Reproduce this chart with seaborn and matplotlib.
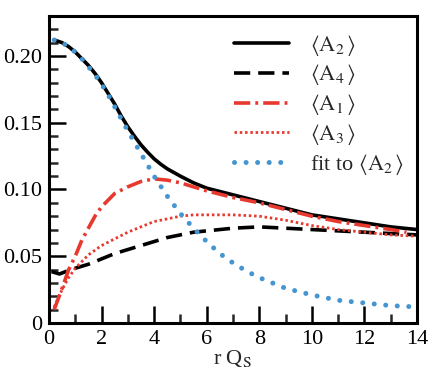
import numpy as np
import pandas as pd
import seaborn as sns
import matplotlib.pyplot as plt
from matplotlib.ticker import MultipleLocator, FuncFormatter

# values
x_a2 = [0.2, 0.5, 0.75, 1, 1.25, 1.5, 1.75, 2, 2.25, 2.5, 2.75, 3, 3.25, 3.5, 3.75, 4, 4.25, 4.5,
        5, 5.5, 6, 7, 8, 9, 10, 11, 12, 13, 14]
a2 = [0.212, 0.210, 0.207, 0.203, 0.198, 0.193, 0.187, 0.180, 0.172, 0.164, 0.155, 0.147, 0.140,
      0.1335, 0.128, 0.123, 0.119, 0.1155, 0.110, 0.105, 0.101, 0.096, 0.091, 0.086, 0.081,
      0.078, 0.075, 0.072, 0.070]

x_a4 = [0.1, 0.4, 0.7, 1, 1.5, 2, 2.5, 3, 3.5, 4, 4.5, 5, 5.5, 6, 7, 8, 9, 10, 11, 12, 13, 14]
a4 = [0.0385, 0.0367, 0.039, 0.041, 0.044, 0.048, 0.052, 0.055, 0.058, 0.061, 0.064, 0.066,
      0.068, 0.069, 0.071, 0.072, 0.071, 0.070, 0.069, 0.068, 0.067, 0.066]

x_a1 = [0.2, 0.5, 0.75, 1, 1.25, 1.5, 1.75, 2, 2.5, 3, 3.5, 4, 4.5, 5, 5.5, 6, 7, 8, 9, 10, 11,
        12, 13, 13.6]
a1 = [0.010, 0.026, 0.040, 0.050, 0.062, 0.071, 0.080, 0.087, 0.097, 0.102, 0.106, 0.108, 0.107,
      0.105, 0.102, 0.099, 0.094, 0.090, 0.085, 0.080, 0.076, 0.073, 0.070, 0.068]

x_a3 = [0.2, 0.5, 0.75, 1, 1.5, 2, 2.5, 3, 3.5, 4, 4.5, 5, 5.5, 6, 7, 8, 9, 10, 11, 12, 13, 14]
a3 = [0.012, 0.025, 0.034, 0.041, 0.051, 0.058, 0.063, 0.068, 0.072, 0.076, 0.078, 0.080,
      0.081, 0.081, 0.081, 0.080, 0.077, 0.073, 0.070, 0.068, 0.066, 0.065]

x_fit = [0.2, 0.5, 0.75, 1, 1.25, 1.5, 1.75, 2, 2.25, 2.5, 2.75, 3, 3.5, 4, 4.5, 5, 5.5, 6, 6.5,
         7, 7.5, 8, 9, 10, 11, 12, 13, 14]
fit = [0.212, 0.210, 0.207, 0.203, 0.198, 0.192, 0.186, 0.179, 0.171, 0.162, 0.153, 0.144, 0.127,
       0.110, 0.095, 0.082, 0.071, 0.061, 0.052, 0.045, 0.039, 0.034, 0.026, 0.021, 0.017,
       0.015, 0.013, 0.012]

labels = [r'$\langle \mathrm{A}_2\,\rangle$', r'$\langle \mathrm{A}_4\,\rangle$',
          r'$\langle \mathrm{A}_1\,\rangle$', r'$\langle \mathrm{A}_3\,\rangle$',
          r'fit to $\langle \mathrm{A}_2\,\rangle$']

RED = '#e8392f'
BLUE = '#4596d0'


def set_config():
    sns.set_theme(style='ticks')
    plt.rcParams['font.family'] = ['Liberation Serif', 'DejaVu Serif']
    plt.rcParams['mathtext.fontset'] = 'stix'


def main():
    set_config()
    fig = plt.figure(figsize=(4.45, 3.82), dpi=100)
    ax = fig.add_axes([0.110, 0.1545, 0.827, 0.8037])

    series = [
        (x_a2, a2, dict(color='black', lw=2.6, linestyle='-')),
        (x_a4, a4, dict(color='black', lw=2.6, linestyle=(0, (4.5, 2.2)))),
        (x_a1, a1, dict(color=RED, lw=2.6, linestyle=(0, (4.5, 1.4, 0.8, 1.4)))),
        (x_a3, a3, dict(color=RED, lw=2.0, linestyle=(0, (0.9, 1.0)))),
        (x_fit, fit, dict(color=BLUE, lw=3.6, linestyle=(0, (0.01, 2.3)), dash_capstyle='round')),
    ]
    for (xs, ys, kw), lab in zip(series, labels):
        df = pd.DataFrame({'x': xs, 'y': ys})
        sns.lineplot(data=df, x='x', y='y', ax=ax, label=lab, **kw)

    ax.set_xlim(0, 14)
    ax.set_ylim(0, 0.23)
    ax.xaxis.set_major_locator(MultipleLocator(2))
    ax.xaxis.set_minor_locator(MultipleLocator(1))
    ax.yaxis.set_major_locator(MultipleLocator(0.05))
    ax.yaxis.set_minor_locator(MultipleLocator(0.01))
    ax.yaxis.set_major_formatter(FuncFormatter(lambda v, p: '0' if abs(v) < 1e-9 else f'{v:.2f}'))
    ax.tick_params(which='major', direction='in', length=12, width=1.8, labelsize=16,
                   top=False, right=False, pad=5, colors='black')
    ax.tick_params(which='minor', direction='in', length=6.5, width=1.8, top=False, right=False)
    for s in ax.spines.values():
        s.set_linewidth(2.2)
        s.set_color('black')

    ax.set_xlabel(r'r Q$_\mathrm{S}$', fontsize=16, labelpad=-1)
    ax.set_ylabel('')

    ax.legend(loc='upper right', frameon=False, fontsize=16, handlelength=2.5,
              handletextpad=0.95, labelspacing=0.22, borderaxespad=0.0,
              bbox_to_anchor=(0.99, 0.975))

    fig.savefig('out.png', dpi=100)


if __name__ == '__main__':
    main()
